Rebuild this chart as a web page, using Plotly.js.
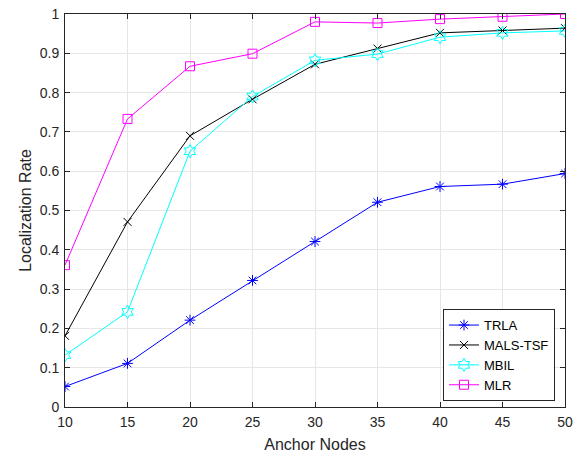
<!DOCTYPE html>
<html>
<head>
<meta charset="utf-8">
<script src="https://cdn.plot.ly/plotly-3.0.1.min.js"></script>
<style>html,body{margin:0;padding:0;background:#fff;}#chart{width:583px;height:456px;}</style>
</head>
<body>
<div id="chart"></div>
<script>
const anchorNodes = [10, 15, 20, 25, 30, 35, 40, 45, 50];
const trla    = [0.052, 0.111, 0.221, 0.322, 0.421, 0.521, 0.561, 0.567, 0.594];
const malsTsf = [0.181, 0.471, 0.690, 0.783, 0.872, 0.912, 0.952, 0.958, 0.964];
const mbil    = [0.132, 0.242, 0.651, 0.790, 0.882, 0.898, 0.941, 0.952, 0.957];
const mlr     = [0.361, 0.733, 0.867, 0.899, 0.980, 0.977, 0.987, 0.993, 1.000];
const seriesNames = ['TRLA', 'MALS-TSF', 'MBIL', 'MLR'];
const xTicks = [10, 15, 20, 25, 30, 35, 40, 45, 50];
const yTicks = [0, 0.1, 0.2, 0.3, 0.4, 0.5, 0.6, 0.7, 0.8, 0.9, 1];

const styles = [
  {color: '#0000ff', symbol: 'asterisk-open', size: 9},
  {color: '#000000', symbol: 'x-thin-open', size: 8},
  {color: '#00ffff', symbol: 'hexagram-open', size: 10},
  {color: '#ff00ff', symbol: 'square-open', size: 9}
];
const ys = [trla, malsTsf, mbil, mlr];
const traces = ys.map((y, i) => ({
  x: anchorNodes, y: y, name: seriesNames[i], type: 'scatter', mode: 'lines+markers',
  line: {color: styles[i].color, width: 1},
  marker: {symbol: styles[i].symbol, size: styles[i].size, color: styles[i].color,
           line: {color: styles[i].color, width: 1}}
}));

const FONT = 'Liberation Sans, Arial, sans-serif';
const axisCommon = {
  showline: true, mirror: 'ticks', linecolor: '#262626', linewidth: 1,
  ticks: 'inside', ticklen: 5, tickcolor: '#262626',
  showgrid: true, gridcolor: '#e6e6e6', gridwidth: 1, zeroline: false,
  tickfont: {family: FONT, size: 14, color: '#262626'}
};

const layout = {
  width: 583, height: 456,
  margin: {l: 65, r: 18, t: 14, b: 49},
  paper_bgcolor: '#ffffff', plot_bgcolor: '#ffffff',
  font: {family: FONT, color: '#262626'},
  xaxis: Object.assign({}, axisCommon, {
    range: [10, 50], tickvals: xTicks, ticktext: xTicks.map(String),
    ticklabelstandoff: 2,
    title: {text: 'Anchor Nodes', font: {size: 16, color: '#262626'}, standoff: 10}
  }),
  yaxis: Object.assign({}, axisCommon, {
    range: [0, 1], tickvals: yTicks, ticktext: yTicks.map(String),
    ticklabelstandoff: 2,
    title: {text: 'Localization Rate', font: {size: 16, color: '#262626'}, standoff: 4}
  }),
  showlegend: true,
  legend: {
    x: 0.98, y: 0.015, xanchor: 'right', yanchor: 'bottom',
    bgcolor: '#ffffff', bordercolor: '#262626', borderwidth: 1,
    font: {family: FONT, size: 13, color: '#000000'},
    tracegroupgap: 0, itemwidth: 30
  }
};

Plotly.newPlot('chart', traces, layout, {displayModeBar: false, staticPlot: true});
</script>
</body>
</html>
